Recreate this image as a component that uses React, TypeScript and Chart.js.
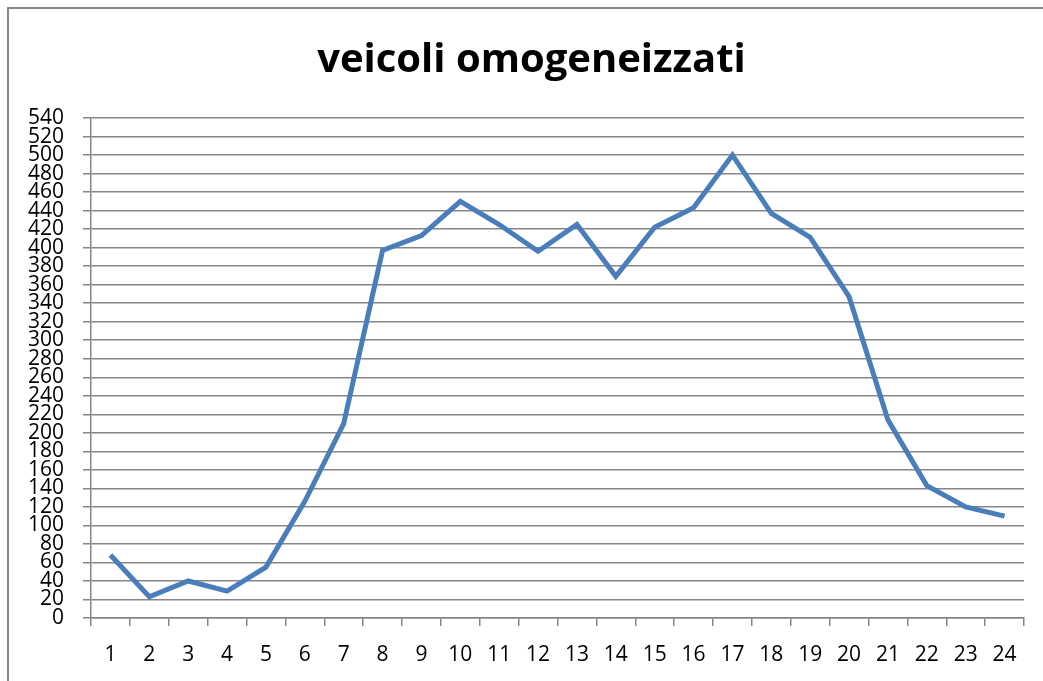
import React, { useEffect, useRef } from "react";
import { Chart, registerables } from "chart.js";

Chart.register(...registerables);

const title = "veicoli omogeneizzati";
const categories = ["1","2","3","4","5","6","7","8","9","10","11","12","13","14","15","16","17","18","19","20","21","22","23","24"];
const values = [68, 23, 40, 29, 55, 126, 210, 397, 413, 450, 425, 396, 425, 369, 422, 443, 500, 437, 411, 347, 214, 143, 120, 110];
const yMin = 0;
const yMax = 540;
const yStep = 20;

const FONT = "'Open Sans', sans-serif";

const shiftTitle = {
  id: "shiftTitle",
  afterLayout(chart: any) {
    const t = chart.titleBlock;
    if (t) {
      t.left += 30;
    }
  },
};

export default function App() {
  const ref = useRef<HTMLCanvasElement>(null);
  useEffect(() => {
    if (!ref.current) return;
    const chart = new Chart(ref.current, {
      type: "line",
      data: {
        labels: categories,
        datasets: [
          {
            data: values,
            borderColor: "#4A7EBB",
            borderWidth: 5,
            pointRadius: 0,
            tension: 0,
            fill: false,
          },
        ],
      },
      plugins: [shiftTitle],
      options: {
        animation: false,
        responsive: false,
        maintainAspectRatio: false,
        layout: { padding: { left: 0, right: 19, top: 0, bottom: 0 } },
        plugins: {
          legend: { display: false },
          tooltip: { enabled: false },
          title: {
            display: true,
            text: title,
            color: "#000",
            font: { family: FONT, size: 40, weight: "bold", lineHeight: 1.2 },
            padding: { top: 28, bottom: 33 },
          },
        },
        scales: {
          x: {
            offset: true,
            grid: {
              offset: true,
              drawOnChartArea: false,
              drawTicks: true,
              tickLength: 8,
              color: "#868686",
              lineWidth: 1.5,
            },
            border: { display: true, color: "#868686", width: 1.5 },
            ticks: { color: "#000", font: { family: FONT, size: 21 }, padding: 16, autoSkip: false, maxRotation: 0 },
            afterFit: (s: any) => { s.height = 63; },
          },
          y: {
            min: yMin,
            max: yMax,
            grid: { color: "#868686", lineWidth: 1.5, tickLength: 8, drawTicks: true },
            border: { display: true, color: "#868686", width: 1.5 },
            ticks: { stepSize: yStep, autoSkip: false, color: "#000", font: { family: FONT, size: 21, lineHeight: 1 }, padding: 19 },
            afterFit: (s: any) => { s.width = 82; },
          },
        },
      },
    });
    return () => chart.destroy();
  }, []);
  return (
    <div
      style={{
        position: "absolute",
        left: 7,
        top: 7,
        width: 1060,
        height: 700,
        border: "2px solid #888",
        background: "#fff",
      }}
    >
      <canvas ref={ref} width={1034} height={672} style={{ display: "block" }} />
    </div>
  );
}
